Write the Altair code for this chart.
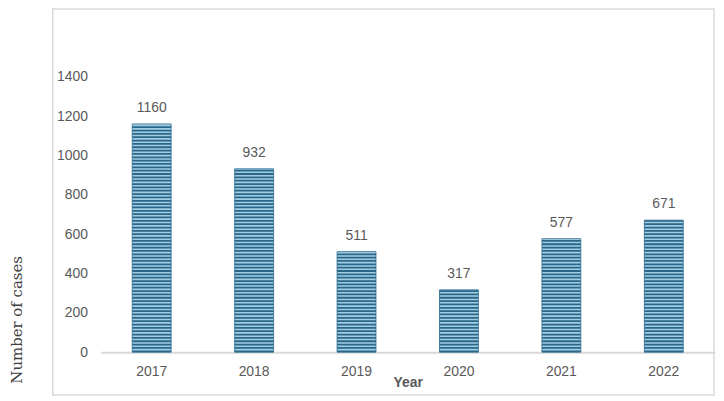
import altair as alt
import pandas as pd

years = ["2017", "2018", "2019", "2020", "2021", "2022"]
cases = [1160, 932, 511, 317, 577, 671]
y_ticks = [0, 200, 400, 600, 800, 1000, 1200, 1400]

df = pd.DataFrame({"Year": years, "Cases": cases})

x_enc = alt.X(
    "Year:N",
    sort=years,
    scale=alt.Scale(paddingInner=0.62, paddingOuter=0.31),
    axis=alt.Axis(
        title="Year",
        labelAngle=0,
        labelFont="Liberation Sans",
        labelFontSize=14,
        labelColor="#595959",
        labelPadding=12,
        ticks=False,
        domainColor="#d9d9d9",
        domainWidth=2,
        titleFont="Liberation Sans",
        titleFontSize=14,
        titleFontWeight="bold",
        titleColor="#595959",
        titleBaseline="alphabetic",
        titleY=35,
    ),
)

y_scale = alt.Scale(domain=[0, 1400], nice=False)
y_axis = alt.Axis(
    values=y_ticks,
    format="d",
    title="Number of cases",
    titleFont="DejaVu Serif",
    titleFontSize=15,
    titleFontWeight="normal",
    titleColor="#404040",
    titleAngle=-90,
    titleX=-84,
    titleY=244,
    titleAlign="center",
    titleBaseline="middle",
    labelFont="Liberation Sans",
    labelFontSize=14,
    labelColor="#595959",
    labelPadding=13,
    ticks=False,
    domain=False,
    grid=False,
)

base = alt.Chart(df).encode(x=x_enc)

bars = base.mark_bar(color="#a3cce0", stroke="#2f6f92", strokeWidth=0.8).encode(
    y=alt.Y("Cases:Q", scale=y_scale, axis=y_axis)
)

stripes = (
    base.transform_calculate(s="sequence(0, datum.Cases - 4, 17)")
    .transform_flatten(["s"])
    .transform_calculate(s2="min(datum.s + 9, datum.Cases)")
    .mark_bar(color="#2a688b")
    .encode(y=alt.Y("s:Q", scale=y_scale, axis=y_axis), y2="s2:Q")
)

labels = base.mark_text(
    baseline="bottom",
    dy=-9,
    font="Liberation Sans",
    fontSize=14,
    color="#595959",
).encode(y=alt.Y("Cases:Q", scale=y_scale, axis=y_axis), text="Cases:Q")

frame = (
    alt.Chart(pd.DataFrame({"k": [0]}))
    .mark_rect(fill="transparent", stroke="#d9d9d9", strokeWidth=1.5)
    .encode(
        x=alt.value(-48),
        x2=alt.value(617),
        y=alt.value(-68),
        y2=alt.value(320),
    )
)

chart = (
    alt.layer(frame, bars, stripes, labels)
    .properties(
        width=618,
        height=277,
        padding={"left": 93, "top": 68, "right": 1, "bottom": 46},
        autosize=alt.AutoSizeParams(type="none"),
        background="white",
    )
    .configure_view(stroke=None)
)

chart.save("out.html", embed_options={"renderer": "svg", "actions": False})
